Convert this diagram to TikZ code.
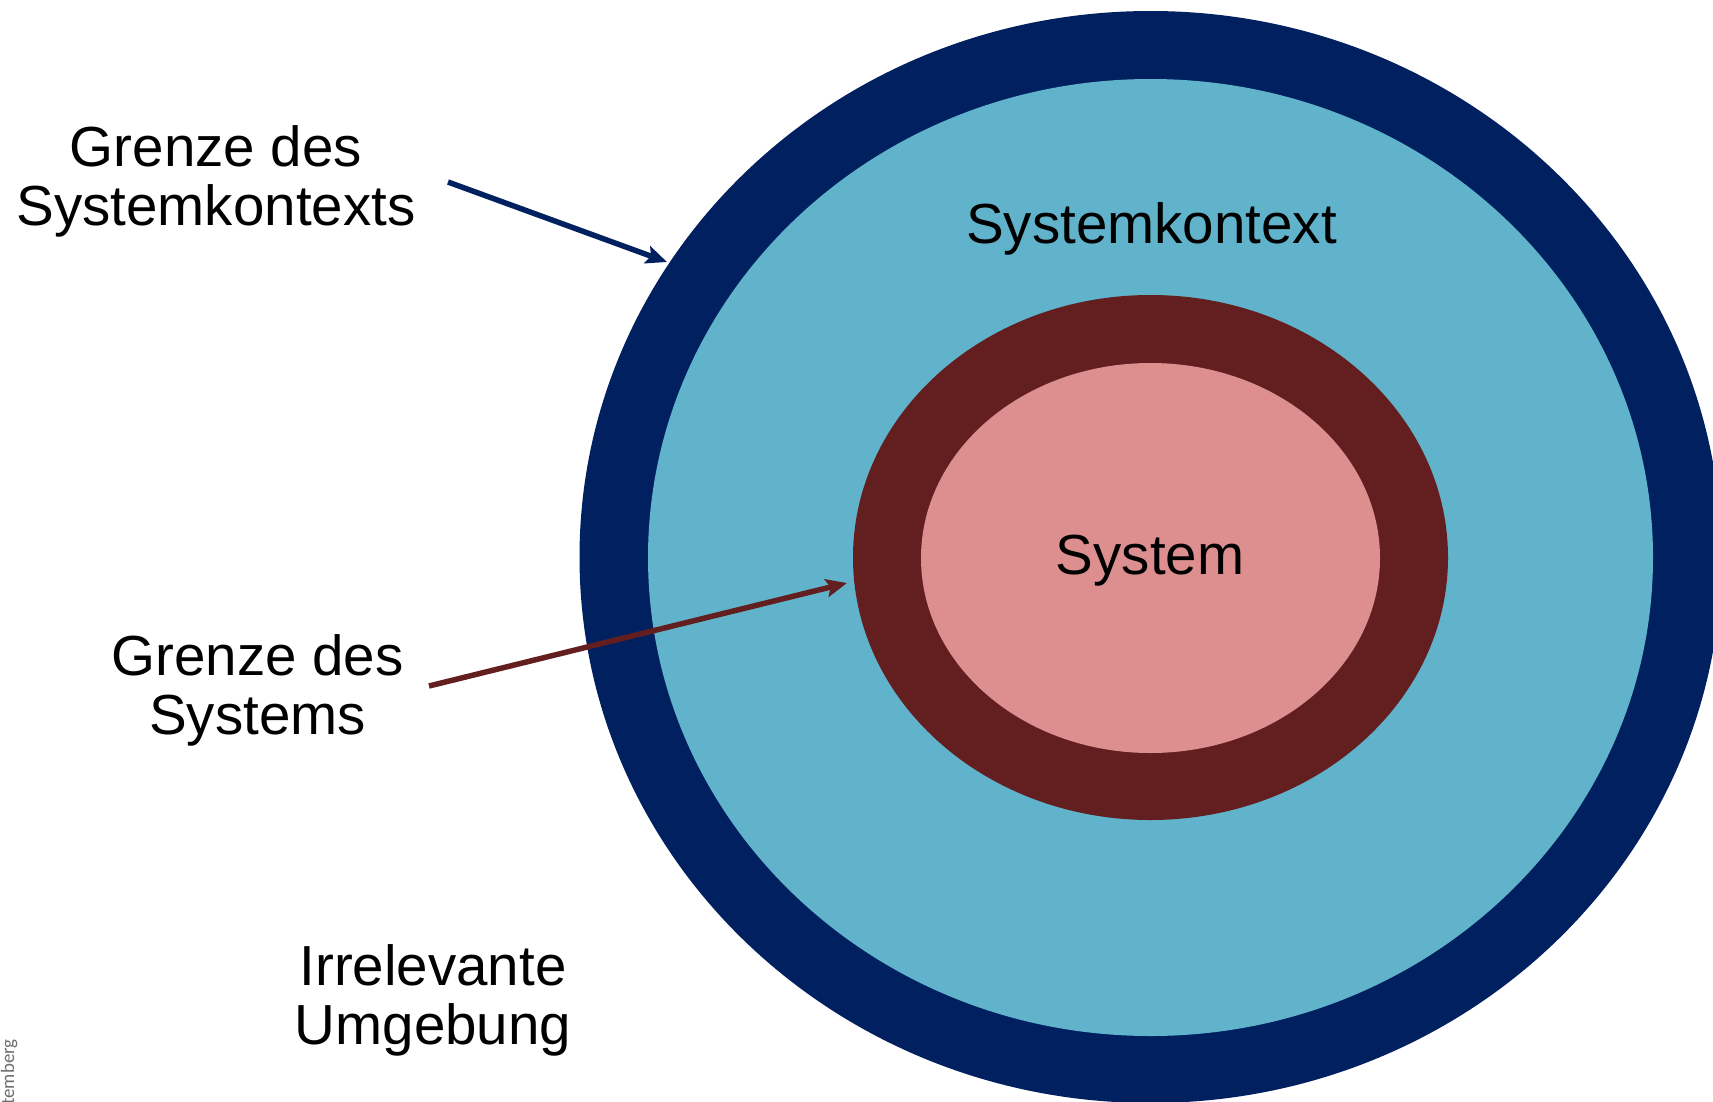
\documentclass[tikz,border=0pt]{standalone}
\usepackage{fontspec}
\setmainfont{Liberation Sans}
\newfontfamily\notefont{Carlito}
\usetikzlibrary{arrows.meta}

\definecolor{ctxborder}{RGB}{0,32,96}
\definecolor{ctxfill}{RGB}{96,179,203}
\definecolor{sysborder}{RGB}{99,31,32}
\definecolor{sysfill}{RGB}{221,143,143}
\definecolor{notegray}{RGB}{110,110,110}

\tikzset{
  label text/.style={inner sep=0pt, align=center,
    font=\fontsize{56.5}{59}\selectfont},
  pointer/.style={line width=5.5pt, -{Stealth[length=21pt,width=18pt,inset=4pt]}},
}

\begin{document}
\begin{tikzpicture}[x=1pt,y=-1pt]
  \path[use as bounding box, clip] (0,0) rectangle (1713,1101);

  % nested boundaries: system context and system
  \fill[ctxborder] (1150.5,557) ellipse [x radius=571pt, y radius=546pt];
  \fill[ctxfill]   (1150.5,557.5) ellipse [x radius=502.5pt, y radius=478.5pt];
  \fill[sysborder] (1150.5,557.5) ellipse [x radius=297.5pt, y radius=262.5pt];
  \fill[sysfill]   (1150.5,558) ellipse [x radius=229.5pt, y radius=195pt];

  % labels (base anchor sits on the last line)
  \node[label text, anchor=base] (ctx) at (1151.5,243) {Systemkontext};
  \node[label text, anchor=base] (sys) at (1150,574) {System};
  \node[label text, anchor=base] (ctxedge) at (216,225) {Grenze des\\Systemkontexts};
  \node[label text, anchor=base] (sysedge) at (257.5,734) {Grenze des\\Systems};
  \node[label text, anchor=base] (irr) at (433,1044) {Irrelevante\\Umgebung};

  % small rotated credit at the lower left
  \node[inner sep=0pt, anchor=base east, rotate=90, text=notegray,
        font=\notefont\fontsize{19}{19}\selectfont] (credit) at (14,1039) {temberg};

  % pointers onto the two boundaries
  \coordinate (ctxfrom) at (448,182);
  \coordinate (ctxto)   at (667,262);
  \coordinate (sysfrom) at (429,686);
  \coordinate (systo)   at (847,583);
  \draw[pointer, ctxborder] (ctxfrom) -- (ctxto);
  \draw[pointer, sysborder] (sysfrom) -- (systo);
\end{tikzpicture}
\end{document}
